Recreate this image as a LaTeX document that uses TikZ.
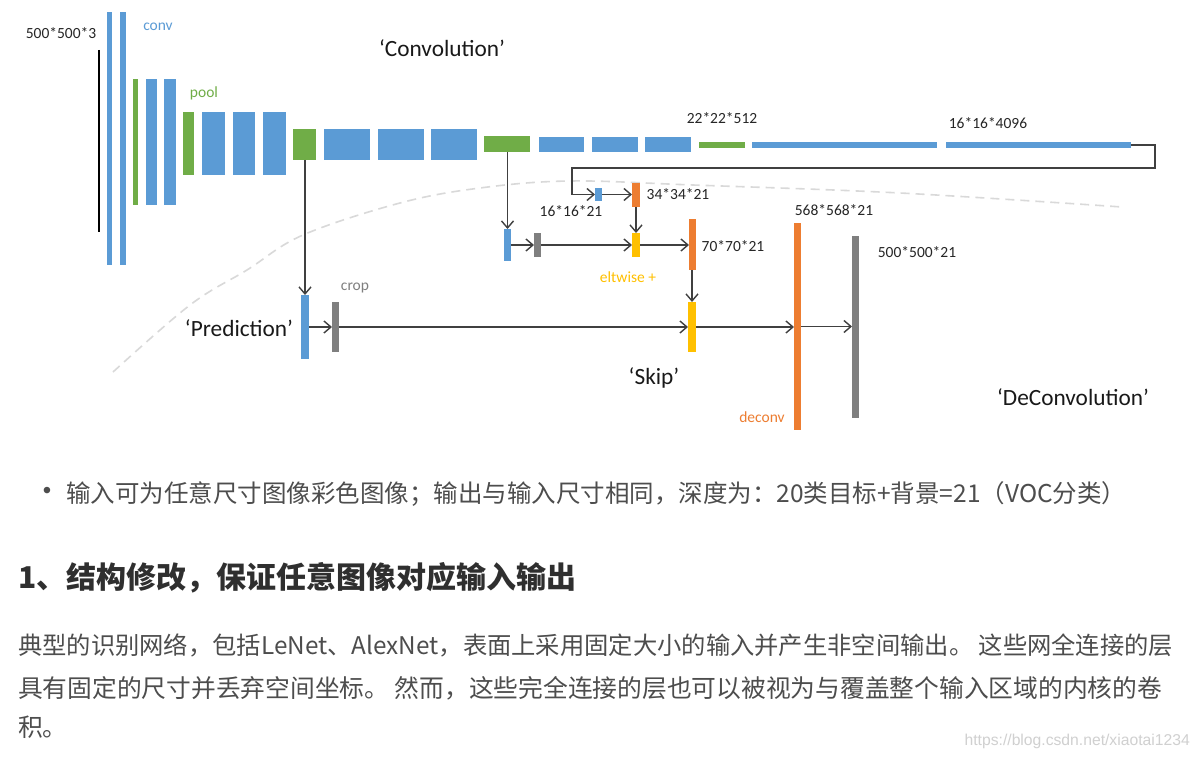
\documentclass[tikz,border=0pt]{standalone}
\usepackage{fontspec}
\setmainfont{Carlito}
\newfontfamily\cjk{Noto Sans CJK SC}
\newfontfamily\wmfont{Liberation Sans}
\usetikzlibrary{arrows.meta}
\definecolor{cblue}{HTML}{5B9BD5}
\definecolor{cgreen}{HTML}{70AD47}
\definecolor{corange}{HTML}{ED7D31}
\definecolor{cgray}{HTML}{7F7F7F}
\definecolor{cyellow}{HTML}{FFC000}
\definecolor{cline}{HTML}{404040}
\definecolor{ctext}{HTML}{262626}
\definecolor{cdash}{HTML}{D9D9D9}
\definecolor{body}{HTML}{4D4D4D}
\definecolor{head}{HTML}{2F2F2F}
\definecolor{wm}{HTML}{D0D0D0}
\newcommand\layer[6]{%
  \pgfmathsetmacro\lw{#4-#2}\pgfmathsetmacro\lh{#5-#3}%
  \node[barbox,fill=#6,minimum width=\lw pt,minimum height=\lh pt] (#1) at ({(#2+#4)/2},{(#3+#5)/2}) {};}
\tikzset{
  barbox/.style={rectangle,draw=none,inner sep=0pt,outer sep=0pt},
  conn/.style={draw=cline,line width=1.4pt,-{Straight Barb[length=7pt,width=12pt,line width=1.4pt]}},
  lbl/.style={inner sep=0pt,text=ctext,font=\fontsize{15.5}{18}\selectfont},
  big/.style={inner sep=0pt,text=black!90,font=\fontsize{23.3}{27}\selectfont},
  bodytxt/.style={inner sep=0pt,anchor=base west,text=body,font=\cjk\fontsize{24.5}{29}\selectfont},
}
\begin{document}
\begin{tikzpicture}[x=1pt,y=-1pt]
\useasboundingbox[fill=white] (0,0) rectangle (1200,757);
% dashed boundary curve
\draw[cdash,line width=1.6pt,dash pattern=on 9pt off 6pt] plot[smooth,tension=0.6] coordinates
  {(113,372) (190,305) (247,270) (303,235) (400,203) (480,188) (570,181) (693,185) (900,193) (1122,207)};
% input line
\draw[black,line width=2pt] (99,50) -- (99,232);
% convolution layers
\layer{B1}{107}{12}{112}{265}{cblue}
\layer{B2}{120}{12}{126}{265}{cblue}
\layer{G1}{133}{79}{138}{205}{cgreen}
\layer{B3}{146}{79}{157}{205}{cblue}
\layer{B4}{164}{79}{176}{205}{cblue}
\layer{G2}{183}{112}{194}{175}{cgreen}
\layer{B5}{202}{112}{225}{175}{cblue}
\layer{B6}{233}{112}{255}{175}{cblue}
\layer{B7}{263}{112}{286}{175}{cblue}
\layer{G3}{293}{129}{316}{160}{cgreen}
\layer{B8}{324}{129}{370}{160}{cblue}
\layer{B9}{378}{129}{424}{160}{cblue}
\layer{B10}{431}{129}{477}{160}{cblue}
\layer{G4}{484}{136}{530}{152}{cgreen}
\layer{B11}{539}{137}{584}{152}{cblue}
\layer{B12}{592}{137}{638}{152}{cblue}
\layer{B13}{645}{137}{691}{152}{cblue}
\layer{G5}{699}{142}{745}{148}{cgreen}
\layer{B14}{752}{142}{937}{148}{cblue}
\layer{B15}{946}{142}{1131}{148}{cblue}
% lower layers
\layer{SB}{595}{188}{602}{201}{cblue}
\layer{O1}{632}{183}{640}{207}{corange}
\layer{Bp}{504}{229}{511}{261}{cblue}
\layer{Gp}{534}{233}{541}{257}{cgray}
\layer{Y1}{632}{233}{640}{257}{cyellow}
\layer{O2}{689}{219}{696}{270}{corange}
\layer{BP}{301}{295}{309}{359}{cblue}
\layer{GC}{332}{302}{339}{352}{cgray}
\layer{Y2}{688}{302}{696}{352}{cyellow}
\layer{O3}{794}{223}{801}{430}{corange}
\layer{GB}{852}{236}{859}{418}{cgray}
% connectors
\coordinate (rc) at (1155,145);
\coordinate (lc) at (572,168);
\draw[conn] (B15.east) -- (rc) |- (lc) |- (SB.west);
\draw[conn] (SB.east) -- (SB.east -| O1.west);
\draw[conn] (O1.south) -- (Y1.north);
\draw[conn] (G4.south -| Bp.north) -- (Bp.north);
\draw[conn] (Bp.east) -- (Bp.east -| Gp.west);
\draw[conn] (Gp.east) -- (Gp.east -| Y1.west);
\draw[conn] (Y1.east) -- (Y1.east -| O2.west);
\draw[conn] (O2.south -| Y2.north) -- (Y2.north);
\draw[conn] (G3.south -| BP.north) -- (BP.north);
\draw[conn] (BP.east) -- (BP.east -| GC.west);
\draw[conn] (GC.east) -- (GC.east -| Y2.west);
\draw[conn] (Y2.east) -- (Y2.east -| O3.west);
\draw[conn] (O3.east) -- (O3.east -| GB.west);
% labels
\node[lbl] (t1) at (61,33) {500*500*3};
\node[lbl,text=cblue] (t2) at (158,27) {conv};
\node[lbl,text=cgreen] (t3) at (204,93) {pool};
\node[big] (t4) at (442,48) {‘Convolution’};
\node[lbl] (t5) at (722,118) {22*22*512};
\node[lbl] (t6) at (988,123) {16*16*4096};
\node[lbl] (t7) at (571,211) {16*16*21};
\node[lbl] (t8) at (678,194) {34*34*21};
\node[lbl] (t9) at (733,246) {70*70*21};
\node[lbl,text=cyellow] (t10) at (628,277) {eltwise +};
\node[lbl] (t11) at (834,210) {568*568*21};
\node[lbl] (t12) at (917,252) {500*500*21};
\node[lbl,text=cgray] (t13) at (355,288) {crop};
\node[big] (t14) at (239,328) {‘Prediction’};
\node[big] (t15) at (654,378) {‘Skip’};
\node[lbl,text=corange] (t16) at (762,417) {deconv};
\node[big] (t17) at (1073,397) {‘DeConvolution’};
% text below
\node[inner sep=0pt,text=body,font=\wmfont\fontsize{24}{28}\selectfont] (bul) at (47,493) {•};
\node[bodytxt] (p0) at (66,502) {输入可为任意尺寸图像彩色图像；输出与输入尺寸相同，深度为：20类目标+背景=21（VOC分类）};
\node[inner sep=0pt,anchor=base west,text=head,font=\cjk\bfseries\fontsize{30}{36}\selectfont] (h1) at (18,588) {1、结构修改，保证任意图像对应输入输出};
\node[bodytxt,font=\cjk\fontsize{24.3}{29}\selectfont] (p1) at (18,654) {典型的识别网络，包括LeNet、AlexNet，表面上采用固定大小的输入并产生非空间输出。 这些网全连接的层};
\node[bodytxt,font=\cjk\fontsize{24.75}{29}\selectfont] (p2) at (18,697) {具有固定的尺寸并丢弃空间坐标。 然而，这些完全连接的层也可以被视为与覆盖整个输入区域的内核的卷};
\node[bodytxt,font=\cjk\fontsize{24.75}{29}\selectfont] (p3) at (18,736) {积。};
\node[inner sep=0pt,anchor=base east,text=wm,font=\wmfont\fontsize{15.7}{18}\selectfont] (wm) at (1190,745) {https://blog.csdn.net/xiaotai1234};
\end{tikzpicture}
\end{document}
